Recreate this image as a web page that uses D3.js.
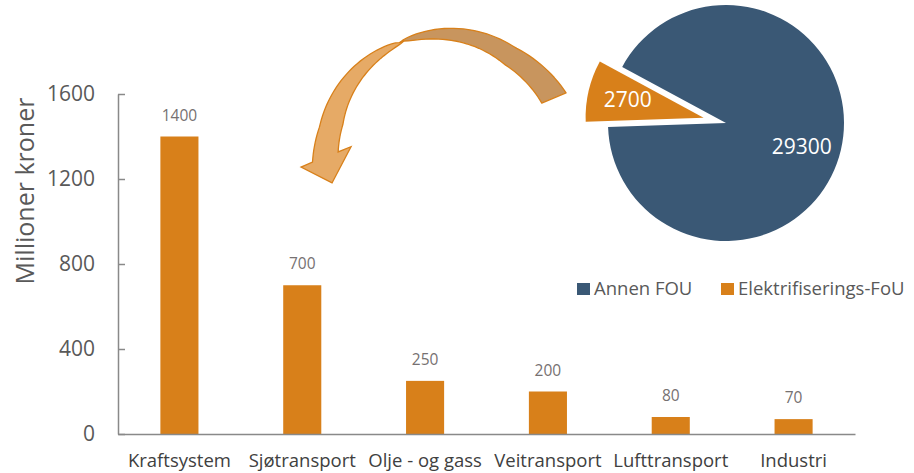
<!DOCTYPE html>
<html>
<head>
<meta charset="utf-8">
<script src="https://cdn.jsdelivr.net/npm/d3@7"></script>
<style>
	body { margin: 0; background: #fff; }
	text { font-family: "Open Sans", sans-serif; }
</style>
</head>
<body>
<svg id="chart" width="914" height="473"></svg>
<script>
// bar chart data
var categories = ["Kraftsystem", "Sjøtransport", "Olje - og gass", "Veitransport", "Lufttransport", "Industri"];
var values = [1400, 700, 250, 200, 80, 70];
var yTicks = [0, 400, 800, 1200, 1600];
var yTitle = "Millioner kroner";

// pie data
var pieNames = ["Annen FOU", "Elektrifiserings-FoU"];
var pieValues = [29300, 2700];

var orange = "#D8801A";
var blue = "#3A5875";
var pieColors = [blue, orange];

var svg = d3.select("#chart");

var x = d3.scaleBand()
	.domain(categories)
	.range([118, 855])
	.paddingInner(0.69)
	.paddingOuter(0.345);

var y = d3.scaleLinear()
	.domain([0, 1600])
	.range([434, 94]);

// bars
svg.append("g").selectAll("rect")
	.data(values)
	.join("rect")
	.attr("x", function (d, i) { return x(categories[i]); })
	.attr("y", function (d) { return y(d); })
	.attr("width", x.bandwidth())
	.attr("height", function (d) { return y(0) - y(d); })
	.attr("fill", orange);

// value labels
svg.append("g").selectAll("text")
	.data(values)
	.join("text")
	.attr("x", function (d, i) { return x(categories[i]) + x.bandwidth() / 2; })
	.attr("y", function (d) { return y(d) - 16; })
	.attr("text-anchor", "middle")
	.attr("font-size", 15.5)
	.attr("fill", "#767171")
	.text(function (d) { return d; });

// y axis, ticks pointing inwards
var yAxis = svg.append("g")
	.attr("transform", "translate(118,0)")
	.call(d3.axisLeft(y).tickValues(yTicks).tickFormat(d3.format("d")).tickSizeInner(-7).tickSizeOuter(0).tickPadding(23));
yAxis.selectAll("text").attr("font-size", 21).attr("fill", "#595959").attr("font-family", "Open Sans");
yAxis.selectAll("line").attr("stroke", "#898989").attr("stroke-width", 1.5);
yAxis.select(".domain").attr("stroke", "#898989").attr("stroke-width", 1.5);

// x axis
var xAxis = svg.append("g")
	.attr("transform", "translate(0,434)")
	.call(d3.axisBottom(x).tickSize(0).tickPadding(20));
xAxis.selectAll("text").attr("font-size", 18.5).attr("fill", "#404040").attr("font-family", "Open Sans");
xAxis.select(".domain").attr("stroke", "#898989").attr("stroke-width", 1.5);

svg.append("text")
	.attr("transform", "translate(34,191) rotate(-90)")
	.attr("text-anchor", "middle")
	.attr("font-family", "Liberation Sans")
	.attr("font-size", 25)
	.attr("fill", "#595959")
	.text(yTitle);

// curved arrow from the pie to the bars
var ac = [449, 164];
function polar(r, deg)
{
	var a = deg * Math.PI / 180;
	return [ac[0] + r * Math.cos(a), ac[1] + r * Math.sin(a)];
}
var t0 = 0.547;
function mid(t) { var u = (t - t0) / 0.35; return 124 + 7 * Math.max(0, 1 - u * u); }
function width(t) { return t < t0 ? 26 * Math.pow((t0 - t) / t0, 0.6) : 25 * Math.pow((t - t0) / (1 - t0), 0.6); }
function phiO(t) { return -31.3 - 147.9 * t; }
function phiI(t) { return -33.3 - 140.5 * t; }
function edge(t0_, t1_, outer)
{
	var pts = [];
	for (var k = 0; k <= 40; k++)
	{
		var t = t0_ + (t1_ - t0_) * k / 40;
		var r = outer ? mid(t) + width(t) / 2 : mid(t) - width(t) / 2;
		pts.push(polar(r, outer ? phiO(t) : phiI(t)));
	}
	return pts;
}
var line = d3.line();
// back (darker) part of the ribbon
var backPts = edge(0, t0, true).concat(edge(t0, 0, false));
svg.append("path")
	.attr("d", line(backPts) + "Z")
	.attr("fill", "#C8955E")
	.attr("stroke", orange)
	.attr("stroke-width", 1.3)
	.attr("stroke-linejoin", "round");
// front (lighter) part with the head
var frontPts = edge(t0, 1, true)
	.concat([polar(148, -181.2), polar(118.5, -189.2), polar(99.5, -170)])
	.concat(edge(1, t0, false));
svg.append("path")
	.attr("d", line(frontPts) + "Z")
	.attr("fill", "#E6AA66")
	.attr("stroke", orange)
	.attr("stroke-width", 1.3)
	.attr("stroke-linejoin", "miter");

// pie
var pc = [726, 123], pr = 118;
var start = -61.6 * Math.PI / 180;
var pie = d3.pie().sort(null).startAngle(start).endAngle(start + 2 * Math.PI);
var arcs = pie(pieValues);
var arc = d3.arc().innerRadius(0).outerRadius(pr);
var labelArc = d3.arc().innerRadius(pr * 0.66).outerRadius(pr * 0.66);
var labelShift = [6, 0];

var slices = svg.append("g").attr("transform", "translate(" + pc + ")")
	.selectAll("g")
	.data(arcs)
	.join("g")
	.attr("transform", function (d, i)
	{
		if (i == 0) return null;
		var a = (d.startAngle + d.endAngle) / 2;
		return "translate(" + (23 * Math.sin(a)) + "," + (-23 * Math.cos(a)) + ")";
	});
slices.append("path")
	.attr("d", arc)
	.attr("fill", function (d, i) { return pieColors[i]; });
slices.append("text")
	.attr("transform", function (d, i)
	{
		var c = labelArc.centroid(d);
		return "translate(" + c[0] + "," + (c[1] + labelShift[i]) + ")";
	})
	.attr("dy", "0.35em")
	.attr("text-anchor", "middle")
	.attr("font-size", 21)
	.attr("fill", "#fff")
	.text(function (d) { return d.data; });

// legend
var legX = [577, 721];
var leg = svg.append("g").selectAll("g")
	.data(pieNames)
	.join("g")
	.attr("transform", function (d, i) { return "translate(" + legX[i] + ",283)"; });
leg.append("rect")
	.attr("width", 13).attr("height", 12)
	.attr("fill", function (d, i) { return pieColors[i]; });
leg.append("text")
	.attr("x", 17).attr("y", 12)
	.attr("font-size", 18.5)
	.attr("fill", "#595959")
	.text(function (d) { return d; });
</script>
</body>
</html>
